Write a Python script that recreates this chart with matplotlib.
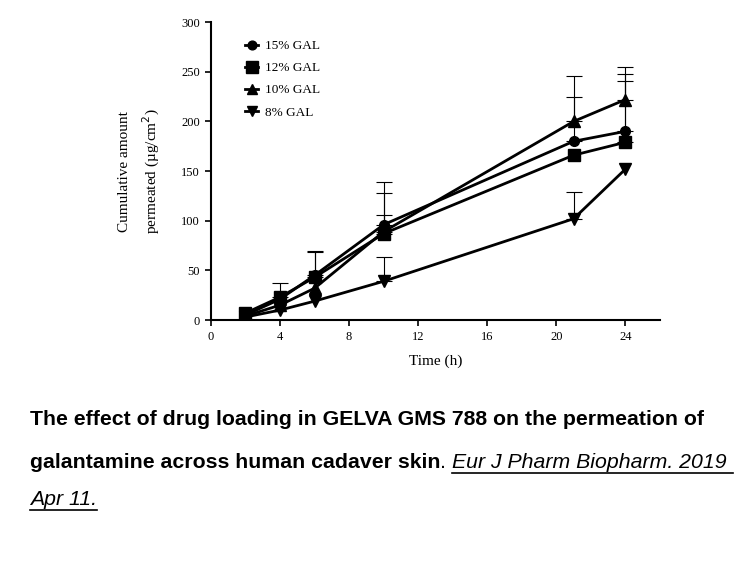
import matplotlib
matplotlib.use("Agg")
import matplotlib.pyplot as plt
from matplotlib.lines import Line2D
from matplotlib import font_manager

# data
time_h = [2, 4, 6, 10, 21, 24]

gal15 = [5, 21, 45, 96, 180, 190]
gal12 = [7, 23, 43, 87, 166, 179]
gal10 = [4, 15, 32, 89, 200, 222]
gal8 = [3, 10, 19, 39, 102, 152]

# upper error bars only (0 = none visible)
err15 = [0, 0, 25, 43, 45, 58]
err12 = [0, 14, 25, 41, 0, 62]
err10 = [0, 0, 0, 17, 46, 33]
err8 = [0, 0, 0, 24, 27, 0]

labels = ["15% GAL", "12% GAL", "10% GAL", "8% GAL"]
markers = ["o", "s", "^", "v"]
sizes = [7, 9, 8, 8]

x_ticks = [0, 4, 8, 12, 16, 20, 24]
y_ticks = [0, 50, 100, 150, 200, 250, 300]

serif = "Liberation Serif"

names = {f.name for f in font_manager.fontManager.ttflist}
if "Liberation Sans Narrow" in names:
    cap_font, cap_size = "Liberation Sans Narrow", 18.5
else:
    cap_font, cap_size = "Liberation Sans", 15.3

fig = plt.figure(figsize=(7.56, 5.67), dpi=100)
ax = fig.add_axes([0.279, 0.4356, 0.594, 0.5254])

series = [gal15, gal12, gal10, gal8]
errors = [err15, err12, err10, err8]
for vals, errs, lab, mk, ms in zip(series, errors, labels, markers, sizes):
    ex = [t for t, e in zip(time_h, errs) if e > 0]
    ey = [v for v, e in zip(vals, errs) if e > 0]
    ee = [e for e in errs if e > 0]
    ax.errorbar(ex, ey, yerr=[[0] * len(ee), ee], fmt="none",
                ecolor="black", elinewidth=0.8, capsize=6, capthick=0.8, zorder=2)
    ax.plot(time_h, vals, color="black", lw=2, marker=mk, ms=ms,
            label=lab, zorder=3)

ax.set_xlim(0, 26)
ax.set_ylim(0, 300)
ax.set_xticks(x_ticks)
ax.set_yticks(y_ticks)
ax.spines["top"].set_visible(False)
ax.spines["right"].set_visible(False)
ax.spines["left"].set_linewidth(1.5)
ax.spines["bottom"].set_linewidth(1.5)
ax.tick_params(direction="out", length=4, width=1.2, labelsize=9, pad=4)
for t in ax.get_xticklabels() + ax.get_yticklabels():
    t.set_fontfamily(serif)

ax.set_xlabel("Time (h)", fontfamily=serif, fontsize=11)
ax.xaxis.set_label_coords(0.5, -0.115)
ax.set_ylabel("Cumulative amount\npermeated (µg/cm$^2$)", fontfamily=serif,
              fontsize=11, linespacing=1.6)
ax.yaxis.set_label_coords(-0.158, 0.5)
ax.yaxis.label.set_verticalalignment("center")

leg = ax.legend(loc="upper left", bbox_to_anchor=(0.05, 0.98), frameon=False,
                prop={"family": serif, "size": 9.5}, handlelength=1.0,
                labelspacing=0.75, handletextpad=0.5, markerscale=0.9)

# caption below the chart
fig.canvas.draw()
renderer = fig.canvas.get_renderer()


def put(x, y, s, **kw):
    t = fig.text(x, y, s, transform=None, fontfamily=cap_font,
                 fontsize=cap_size, va="baseline", ha="left", **kw)
    bb = t.get_window_extent(renderer)
    return t, bb


def underline(bb, y):
    fig.add_artist(Line2D([bb.x0, bb.x1], [y - 5, y - 5], transform=None,
                          color="black", lw=1.2))


H = 567
y1 = H - 425
y2 = H - 468
y3 = H - 505
put(30, y1, "The effect of drug loading in GELVA GMS 788 on the permeation of",
    fontweight="bold")
t, bb = put(30, y2, "galantamine across human cadaver skin", fontweight="bold")
t, bb = put(bb.x1, y2, ". ")
t, bb = put(bb.x1, y2, "Eur J Pharm Biopharm. 2019 ", fontstyle="italic")
underline(bb, y2)
t, bb = put(30, y3, "Apr 11.", fontstyle="italic")
underline(bb, y3)

fig.savefig("out.png", dpi=100)
